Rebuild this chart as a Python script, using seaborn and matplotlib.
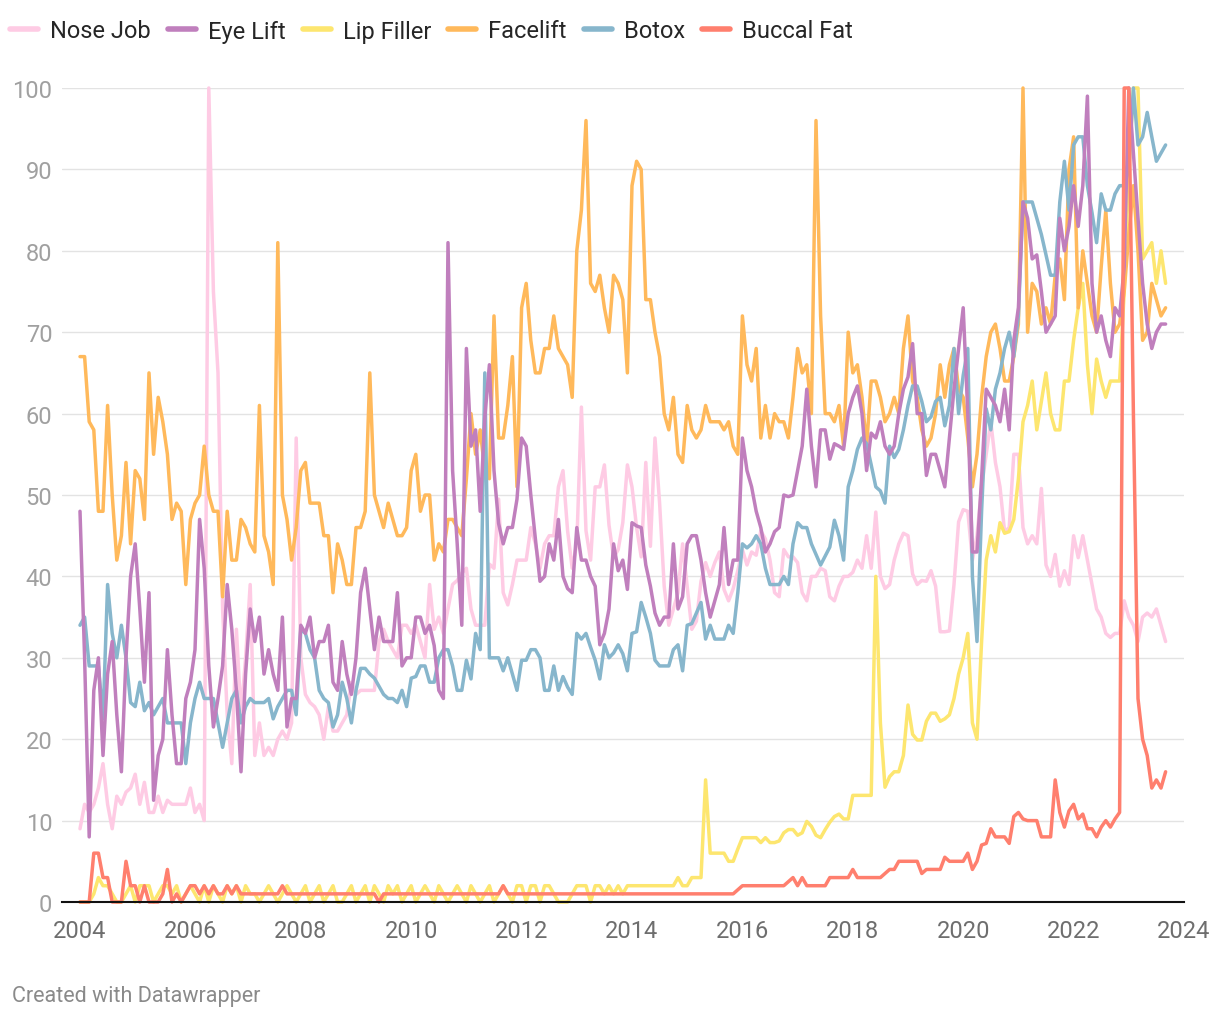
import numpy as np
import pandas as pd
import seaborn as sns
import matplotlib.pyplot as plt
from matplotlib.lines import Line2D

# monthly Google-Trends style index, Jan 2004 .. Sep 2023
nose_job = [
    9, 12, 11, 12, 14, 17, 12, 9, 13, 12, 13.5, 14,
    15.7, 12, 14.7, 11, 11, 13, 11, 12.5, 12, 12, 12, 12,
    14, 11, 12, 10, 100, 75, 65, 36, 23, 17, 33.5, 23,
    30, 39, 18, 22, 18, 19, 18, 20, 21, 20, 22, 57,
    30, 25.5, 24.5, 24, 23, 20, 24, 21, 21, 22, 23, 27,
    25.5, 26, 26, 26, 26, 32, 33.5, 32, 31, 30, 34, 34,
    33, 34, 32, 30, 39, 33.5, 35, 33, 36, 39, 39.5, 40.4,
    41, 36, 34, 34, 34, 41.5, 41, 49.5, 38, 36.5, 39, 42,
    42, 42, 46, 44, 41, 44, 45, 45, 51, 53, 45.6, 41,
    44, 60.8, 45.6, 42, 51, 51, 53.7, 46.3, 42.3, 43.3, 46.6, 53.7,
    51, 46, 42.4, 54, 43.7, 57, 49, 38.8, 34, 36, 38, 44,
    38.8, 33.5, 34.5, 39.4, 41.7, 40, 41.7, 43, 38.4, 37, 38.5, 40.7,
    43.3, 41.4, 43, 42.6, 45.6, 44.6, 42, 38, 37.5, 43.3, 42.4, 42.4,
    41.7, 38, 37, 40, 40, 41, 40.7, 37.5, 37, 38.8, 40, 40,
    40.5, 42, 41, 45, 41, 47.9, 40, 38.5, 39, 42, 44, 45.3,
    45, 40.3, 39, 39.5, 39.4, 40.7, 38.8, 33.2, 33.2, 33.3, 39, 46.7,
    48.2, 48, 42, 45, 51, 55, 59, 54, 51, 45.5, 46, 55,
    55, 46, 44, 45, 44, 50.8, 41.4, 40, 42.7, 38.8, 40.7, 39,
    45, 42.3, 45, 42, 39, 36, 35, 33, 32.5, 33, 33, 37,
    35, 34, 32, 35, 35.5, 35, 36, 34, 32,
]

eye_lift = [
    48, 30, 8, 26, 30, 18, 28, 32, 23, 16, 30, 40,
    44, 36, 27, 38, 12.5, 18, 20, 31, 23, 17, 17, 25,
    27, 31, 47, 41, 29, 21.5, 25, 29, 39, 33.5, 26, 16,
    28, 36, 32, 35, 28, 31, 28, 26, 35, 21.5, 25, 25,
    34, 33, 35, 30, 32, 32, 34, 27, 26, 32, 28, 25.5,
    30, 38, 41, 36, 31, 35, 32, 32, 32, 38, 29, 30,
    30, 35, 35, 33, 34, 31.5, 26, 25, 81, 53, 44, 34,
    68, 56, 58, 48, 59.5, 66, 53, 46.5, 44, 46, 46, 49.5,
    57, 56, 50, 44.6, 39.4, 40, 44, 42, 47, 40, 38.5, 38,
    46, 42, 42, 40, 38.8, 31.6, 33, 36, 44, 40.7, 42, 38.4,
    46.6, 46.2, 46, 41.4, 38.8, 35.5, 34, 35, 35, 44, 36, 37.5,
    44, 45, 45, 42, 38, 35, 37, 39, 46, 39, 42, 42,
    57, 53, 51, 48, 46, 43, 44, 45.5, 46, 50, 49.8, 50,
    53, 56, 63, 56, 51, 58, 58, 54.4, 56.3, 56, 55.6, 60,
    62, 63.4, 60, 53, 57.6, 57, 59, 56, 55, 56, 60, 63,
    64.5, 68.6, 60, 60, 52.4, 55, 55, 53, 51, 57, 63, 68,
    73, 60, 43, 43, 52, 63, 62, 61, 59, 63, 58, 69,
    73, 86, 84, 79, 79.5, 75, 70, 71, 72, 84, 80, 83,
    88, 83, 88, 99, 76, 70, 72, 69, 67, 73, 72, 78,
    100, 92, 84, 76, 71, 68, 70, 71, 71,
]

lip_filler = [
    0, 0, 0, 1, 3, 2, 2, 1, 0, 0, 1, 2,
    0, 2, 2, 2, 0, 1, 2, 2, 1, 2, 0, 1,
    2, 1, 0, 2, 0, 2, 1, 0, 2, 1, 2, 0,
    2, 1, 1, 0, 1, 2, 1, 0, 1, 2, 1, 0,
    1, 2, 0, 1, 2, 0, 1, 2, 0, 0, 1, 2,
    0, 1, 2, 0, 2, 1, 0, 2, 1, 2, 0, 1,
    2, 0, 1, 2, 1, 0, 2, 1, 0, 1, 2, 1,
    0, 2, 1, 0, 1, 2, 0, 1, 2, 1, 0, 2,
    2, 0, 2, 2, 0, 2, 2, 1, 0, 0, 0, 1,
    2, 2, 2, 0, 2, 2, 1, 2, 1, 2, 1, 2,
    2, 2, 2, 2, 2, 2, 2, 2, 2, 2, 3, 2,
    2, 3, 3, 3, 15, 6, 6, 6, 6, 5, 5, 6.5,
    7.9, 7.9, 7.9, 7.9, 7.3, 7.9, 7.3, 7.3, 7.5, 8.5, 8.9, 8.9,
    8.2, 8.5, 9.9, 9.3, 8.2, 7.9, 8.9, 9.8, 10.5, 10.8, 10.2, 10.2,
    13.1, 13.1, 13.1, 13.1, 13.1, 40, 22, 14.1, 15.4, 16, 16, 18,
    24.2, 20.6, 19.9, 19.9, 22.2, 23.2, 23.2, 22.2, 22.5, 23, 25, 28,
    30, 33, 22, 20, 32, 42, 45, 43, 46.6, 45.3, 45.5, 47,
    52, 59, 61, 64, 58, 61.5, 65, 60, 58, 58, 64, 64,
    69, 73, 76, 66, 60, 66.7, 64, 62, 64, 64, 64, 75,
    90, 100, 100, 79, 80, 81, 76, 80, 76,
]

facelift = [
    67, 67, 59, 58, 48, 48, 61, 50, 42, 45, 54, 44,
    53, 52, 47, 65, 55, 62, 59, 55, 47, 49, 48, 39,
    47, 49, 50, 56, 50, 48, 48, 37.5, 48, 42, 42, 47,
    46, 44, 43, 61, 45, 43, 39, 81, 50, 47, 42, 46,
    53, 54, 49, 49, 49, 45, 45, 38, 44, 42, 39, 39,
    46, 46, 48, 65, 50, 48, 46, 49, 47, 45, 45, 46,
    53, 55, 48, 50, 50, 42, 44, 43, 47, 47, 46, 45,
    52, 60, 55, 58, 53, 52, 72, 57, 57, 61, 67, 51,
    73, 76, 69, 65, 65, 68, 68, 72, 68, 67, 66, 62,
    80, 85, 96, 76, 75, 77, 73, 70, 77, 76, 74, 65,
    88, 91, 90, 74, 74, 70, 67, 60, 58, 62, 55, 54,
    61, 58, 57, 58, 61, 59, 59, 59, 58, 59, 56, 55,
    72, 66, 64, 68, 57, 61, 57, 60, 59, 59, 57, 62,
    68, 65, 66, 60, 96, 72, 60, 60, 59, 61, 56, 70,
    65, 66, 62, 56, 64, 64, 62, 59, 60, 62, 60, 68,
    72, 64, 62, 58, 56, 57, 60, 66, 62, 66, 68, 63,
    62, 57, 51, 55, 62, 67, 70, 71, 68, 64, 64, 67,
    71, 100, 70, 76, 75, 71, 73, 71, 77, 79, 74, 90,
    94, 73, 80, 76, 72, 70, 78, 85, 76, 70, 71, 75,
    82, 88, 80, 69, 70, 76, 74, 72, 73,
]

botox = [
    34, 35, 29, 29, 29, 22.5, 39, 33, 30, 34, 30, 24.5,
    24, 27, 23.5, 24.5, 23, 24, 25, 22, 22, 22, 22, 17,
    22, 25, 27, 25, 25, 25, 22, 19, 22, 25, 26, 22,
    24, 25, 24.5, 24.5, 24.5, 25, 22.5, 24, 25, 26, 26, 23,
    33.5, 33, 31, 30, 26, 25, 24.5, 21.5, 23, 27, 25, 22,
    26, 28.7, 28.7, 28, 27.5, 26.5, 25.5, 25, 25, 24.5, 26, 24,
    27.5, 27.7, 29, 29, 27, 27, 30, 31, 31, 29, 26, 26,
    29.7, 27.4, 33, 31, 65, 30, 30, 30, 28.4, 30, 28, 26,
    29.7, 29.7, 31, 31, 30, 26, 26, 29, 26, 27.7, 26.4, 25.5,
    33, 32.3, 33, 31.3, 29.7, 27.4, 31.6, 30, 30.6, 31.6, 30.5, 28.4,
    33, 33.2, 36.8, 35, 33, 29.7, 29, 29, 29, 31, 31.6, 28.4,
    34, 34.2, 35.5, 36.8, 32.3, 34, 32.3, 32.3, 32.3, 34, 33, 38,
    44, 43.5, 44, 45, 44, 41, 39, 39, 39, 40, 39, 44,
    46.6, 46, 46, 44, 42.7, 41.4, 42.5, 43.6, 46.9, 45, 42, 51,
    53, 55.6, 57, 56.3, 53.7, 51, 50.5, 49, 56, 54.6, 55.6, 58,
    61, 63.4, 63.4, 61.5, 59, 59.6, 61.5, 62, 58.5, 61, 68, 60,
    64.7, 68, 40, 32, 48, 60.6, 58, 63, 65, 68, 70, 67,
    72, 86, 86, 86, 84, 82, 79.5, 77, 77, 86, 91, 85,
    93, 94, 94, 88, 84.7, 81, 87, 85, 85, 87, 88, 88,
    90, 100, 93, 94, 97, 94, 91, 92, 93,
]

buccal_fat = [
    0, 0, 0, 6, 6, 3, 3, 0, 0, 0, 5, 2,
    2, 0, 2, 0, 0, 0, 1, 4, 0, 1, 0, 1,
    2, 2, 1, 2, 1, 2, 1, 1, 2, 1, 2, 1,
    1, 1, 1, 1, 1, 1, 1, 1, 2, 1, 1, 1,
    1, 1, 1, 1, 1, 1, 1, 1, 1, 1, 1, 1,
    1, 1, 1, 1, 1, 0, 1, 1, 1, 1, 1, 1,
    1, 1, 1, 1, 1, 1, 1, 1, 1, 1, 1, 1,
    1, 1, 1, 1, 1, 1, 1, 1, 2, 1, 1, 1,
    1, 1, 1, 1, 1, 1, 1, 1, 1, 1, 1, 1,
    1, 1, 1, 1, 1, 1, 1, 1, 1, 1, 1, 1,
    1, 1, 1, 1, 1, 1, 1, 1, 1, 1, 1, 1,
    1, 1, 1, 1, 1, 1, 1, 1, 1, 1, 1, 1.5,
    2, 2, 2, 2, 2, 2, 2, 2, 2, 2, 2.5, 3,
    2, 3, 2, 2, 2, 2, 2, 3, 3, 3, 3, 3,
    4, 3, 3, 3, 3, 3, 3, 3.5, 4, 4, 5, 5,
    5, 5, 5, 3.5, 4, 4, 4, 4, 5.5, 5, 5, 5,
    5, 6, 4, 5, 7, 7.2, 9, 8, 8, 8, 7.2, 10.5,
    11, 10.2, 10, 10, 10, 8, 8, 8, 15, 11, 9.2, 11.2,
    12, 10.2, 10.8, 9, 9, 8, 9.2, 10, 9.2, 10.2, 11, 100,
    100, 60, 25, 20, 18, 14, 15, 14, 16,
]

labels = ["Nose Job", "Eye Lift", "Lip Filler", "Facelift", "Botox", "Buccal Fat"]
values = [nose_job, eye_lift, lip_filler, facelift, botox, buccal_fat]
colors = ["#fecbe4", "#c07fbd", "#fde66f", "#ffb95b", "#87b6cc", "#ff7f6e"]
year_ticks = list(range(2004, 2025, 2))

months = 2004 + np.arange(len(nose_job)) / 12
df = pd.concat([pd.DataFrame({"year": months, "value": v, "series": n})
                for n, v in zip(labels, values)], ignore_index=True)

sns.set_style("white")
plt.rcParams['font.family'] = ['Roboto', 'DejaVu Sans']

fig = plt.figure(figsize=(12.2, 10.2), dpi=100)
ax = fig.add_axes([62 / 1220, 1 - 903 / 1020, (1184 - 62) / 1220, (903 - 89) / 1020])

# draw order: light lines below, buccal fat on top
draw_order = ["Nose Job", "Lip Filler", "Facelift", "Botox", "Eye Lift", "Buccal Fat"]
for name in draw_order:
    c = colors[labels.index(name)]
    sns.lineplot(data=df[df.series == name], x="year", y="value", color=c,
                 lw=2.5, estimator=None, ax=ax, legend=False, clip_on=False,
                 solid_joinstyle="round", solid_capstyle="round")

ax.set_xlim(2004 - 18 / 55.2, 2024)
ax.set_ylim(0, 100)
ax.set_xticks(year_ticks)
ax.set_yticks(range(0, 101, 10))
ax.set_xlabel("")
ax.set_ylabel("")
ax.yaxis.grid(True, color="#e3e3e3", lw=1)
ax.set_axisbelow(True)
for s in ["top", "right", "left"]:
    ax.spines[s].set_visible(False)
ax.spines["bottom"].set_color("#111111")
ax.spines["bottom"].set_linewidth(1.5)
ax.spines["bottom"].set_zorder(5)
ax.tick_params(axis="x", length=0, pad=12, labelsize=17, labelcolor="#6e6e6e")
ax.tick_params(axis="y", length=0, pad=7, labelsize=17, labelcolor="#a0a0a0")

handles = [Line2D([], [], color=c, lw=4, solid_capstyle="round") for c in colors]
fig.legend(handles, labels, loc="center left", bbox_to_anchor=(0.008, 1 - 32 / 1020),
           ncol=6, frameon=False, fontsize=17, handlelength=1.2, handletextpad=0.5,
           columnspacing=0.72, borderaxespad=0, borderpad=0)

fig.text(12 / 1220, 1 - 997 / 1020, "Created with Datawrapper", fontsize=15.5,
         color="#8a8a8a", va="center", ha="left")

fig.savefig("out.png", dpi=100)
